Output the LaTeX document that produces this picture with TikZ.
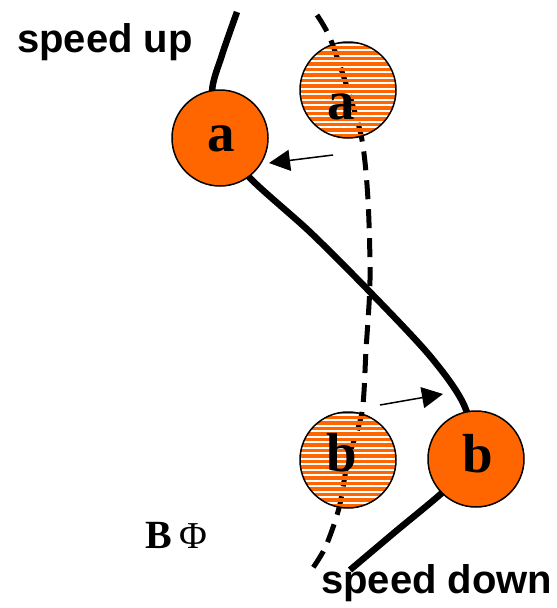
\documentclass[tikz,border=0pt]{standalone}
\usepackage{fontspec}
\setmainfont{Liberation Serif}
\newfontfamily\lsans{Liberation Sans}
\usetikzlibrary{arrows.meta}
\definecolor{ballcol}{HTML}{FF6600}
\tikzset{
  solidpath/.style={line width=6.5pt},
  dashpath/.style={line width=5pt, dash pattern=on 19pt off 10pt},
  ball/.style={circle, draw=black, line width=1.5pt, fill=ballcol, minimum size=96pt, inner sep=0pt},
  ghost/.style={circle, draw=black, line width=1.5pt, minimum size=96pt, inner sep=0pt},
  letter/.style={inner sep=0pt, font=\bfseries\fontsize{55}{55}\selectfont},
  lab/.style={font=\lsans\bfseries\fontsize{40}{40}\selectfont, inner sep=0pt},
  move/.style={line width=1.5pt, -{Triangle[length=21pt,width=21pt]}}
}
\begin{document}
\begin{tikzpicture}[x=1pt,y=-1pt]
\useasboundingbox (0,0) rectangle (557,608);
% dashed (previous) path
\draw[dashpath] plot[smooth] coordinates {(317,15) (330,38) (348,90) (362,140) (368,200) (370,280) (366,350) (362,412) (348,460) (339,508) (325,548) (308,575)};
% solid (current) path
\draw[solidpath] plot[smooth] coordinates {(237,12) (222,55) (212,92) (220,138) (250,178) (310,232) (370,292) (430,356) (464,405) (476,459) (443,492) (395,532) (350,570)};
% ghost balls with horizontal white stripes
\foreach \cx/\cy in {348/90, 348/460}{
  \begin{scope}
    \clip (\cx,\cy) circle (48);
    \foreach \k in {-50,-44.5,...,50}{
      \fill[fill=ballcol] (\cx-50,\cy+\k) rectangle (\cx+50,\cy+\k+3.8);
    }
  \end{scope}
}
\node[ghost] (a2) at (348,90) {};
\node[ghost] (b2) at (348,460) {};
\node[letter] (ta2) at (341,107) {a};
\node[letter] (tb2) at (342,453) {b};
% current balls
\node[ball] (a1) at (220,138) {};
\node[ball] (b1) at (476,459) {};
\node[letter] (ta1) at (221,139) {a};
\node[letter] (tb1) at (478,454) {b};
% displacement arrows
\coordinate (sa) at (333,155);
\coordinate (ea) at (269,163);
\coordinate (sb) at (380,405);
\coordinate (eb) at (443,394);
\draw[move] (sa) -- (ea);
\draw[move] (sb) -- (eb);
% labels
\node[lab, anchor=west] (up) at (17,42) {speed up};
\node[lab, anchor=west] (down) at (321,583) {speed down};
\node[inner sep=0pt, font=\bfseries\fontsize{40}{40}\selectfont] (bb) at (159,535) {B};
\node[inner sep=0pt, font=\fontsize{38}{38}\selectfont] (phi) at (193,536) {Φ};
\end{tikzpicture}
\end{document}
